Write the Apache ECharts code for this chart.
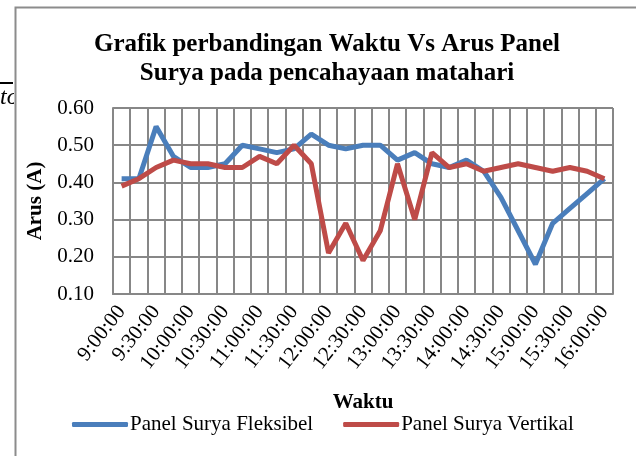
<!DOCTYPE html>
<html>
<head>
<meta charset="utf-8">
<script src="https://cdn.jsdelivr.net/npm/echarts@6/dist/echarts.min.js"></script>
<style>
  html, body { margin: 0; padding: 0; background: #fff; }
  #chart { width: 636px; height: 456px; }
</style>
</head>
<body>
<div id="chart"></div>
<script>
// waktu pengukuran tiap 15 menit
var waktu = ['9:00:00', '9:15:00', '9:30:00', '9:45:00', '10:00:00', '10:15:00', '10:30:00', '10:45:00',
    '11:00:00', '11:15:00', '11:30:00', '11:45:00', '12:00:00', '12:15:00', '12:30:00', '12:45:00',
    '13:00:00', '13:15:00', '13:30:00', '13:45:00', '14:00:00', '14:15:00', '14:30:00', '14:45:00',
    '15:00:00', '15:15:00', '15:30:00', '15:45:00', '16:00:00'];
var fleksibel = [0.41, 0.41, 0.55, 0.47, 0.44, 0.44, 0.45, 0.50, 0.49, 0.48, 0.49, 0.53, 0.50, 0.49, 0.50,
    0.50, 0.46, 0.48, 0.45, 0.44, 0.46, 0.43, 0.36, 0.27, 0.18, 0.29, 0.33, 0.37, 0.41];
var vertikal = [0.39, 0.41, 0.44, 0.46, 0.45, 0.45, 0.44, 0.44, 0.47, 0.45, 0.50, 0.45, 0.21, 0.29, 0.19,
    0.27, 0.45, 0.30, 0.48, 0.44, 0.45, 0.43, 0.44, 0.45, 0.44, 0.43, 0.44, 0.43, 0.41];
var namaSeri = ['Panel Surya Fleksibel', 'Panel Surya Vertikal'];
var judul = ['Grafik perbandingan Waktu Vs Arus Panel', 'Surya pada pencahayaan matahari'];

var serif = '"Liberation Serif", "DejaVu Serif", serif';
var gridColor = '#878787';

var myChart = echarts.init(document.getElementById('chart'));
var option = {
    animation: false,
    textStyle: { fontFamily: serif },
    graphic: [
        // potongan teks halaman di kiri (terpotong bingkai)
        {
            type: 'text', left: 0, top: 86, z: 1,
            style: { text: 'to', font: 'italic 24px ' + serif, fill: '#000' }
        },
        {
            type: 'rect', left: 14, top: 84, z: 2,
            shape: { width: 20, height: 30 },
            style: { fill: '#fff' }
        },
        {
            type: 'rect', left: 0, top: 82, z: 2,
            shape: { width: 13, height: 2 },
            style: { fill: '#000' }
        },
        // bingkai grafik
        {
            type: 'rect', left: 13, top: 5, z: 3,
            shape: { width: 700, height: 500 },
            style: { fill: 'none', stroke: '#8c8c8c', lineWidth: 2 }
        },
        {
            type: 'text', x: 327, y: 59, z: 3,
            style: {
                text: judul.join('\n'), font: 'bold 25px ' + serif, fill: '#000',
                textAlign: 'center', textVerticalAlign: 'middle', lineHeight: 29
            }
        }
    ],
    legend: {
        data: namaSeri,
        left: 67, top: 409,
        icon: 'roundRect',
        itemWidth: 56, itemHeight: 5,
        itemGap: 30,
        textStyle: { fontFamily: serif, fontSize: 21, color: '#000', padding: [0, 0, 0, -3] }
    },
    grid: { left: 113, right: 23, top: 108, bottom: 162 },
    xAxis: {
        type: 'category',
        data: waktu,
        boundaryGap: true,
        name: 'Waktu',
        nameLocation: 'middle',
        nameGap: 98,
        nameTextStyle: { fontFamily: serif, fontWeight: 'bold', fontSize: 21, color: '#000' },
        axisLine: { lineStyle: { color: gridColor, width: 2 } },
        axisTick: { show: false },
        axisLabel: {
            interval: 1, rotate: 52, margin: 14,
            fontFamily: serif, fontSize: 21, color: '#000'
        },
        splitLine: { show: true, interval: 0, lineStyle: { color: gridColor, width: 2 } }
    },
    yAxis: {
        type: 'value',
        min: 0.1, max: 0.6, interval: 0.1,
        name: 'Arus (A)',
        nameLocation: 'middle',
        nameGap: 65,
        nameTextStyle: { fontFamily: serif, fontWeight: 'bold', fontSize: 21, color: '#000' },
        axisLine: { show: true, lineStyle: { color: gridColor, width: 2 } },
        axisTick: { show: false },
        axisLabel: {
            margin: 19, fontFamily: serif, fontSize: 21, color: '#000',
            formatter: function (v) { return v.toFixed(2); }
        },
        splitLine: { lineStyle: { color: gridColor, width: 2 } }
    },
    series: [
        {
            name: namaSeri[0], type: 'line', data: fleksibel,
            showSymbol: false, symbol: 'none',
            itemStyle: { color: '#4a7ebb' },
            lineStyle: { color: '#4a7ebb', width: 5 }
        },
        {
            name: namaSeri[1], type: 'line', data: vertikal,
            showSymbol: false, symbol: 'none',
            itemStyle: { color: '#be4b48' },
            lineStyle: { color: '#be4b48', width: 5 }
        }
    ]
};
myChart.setOption(option);
</script>
</body>
</html>
